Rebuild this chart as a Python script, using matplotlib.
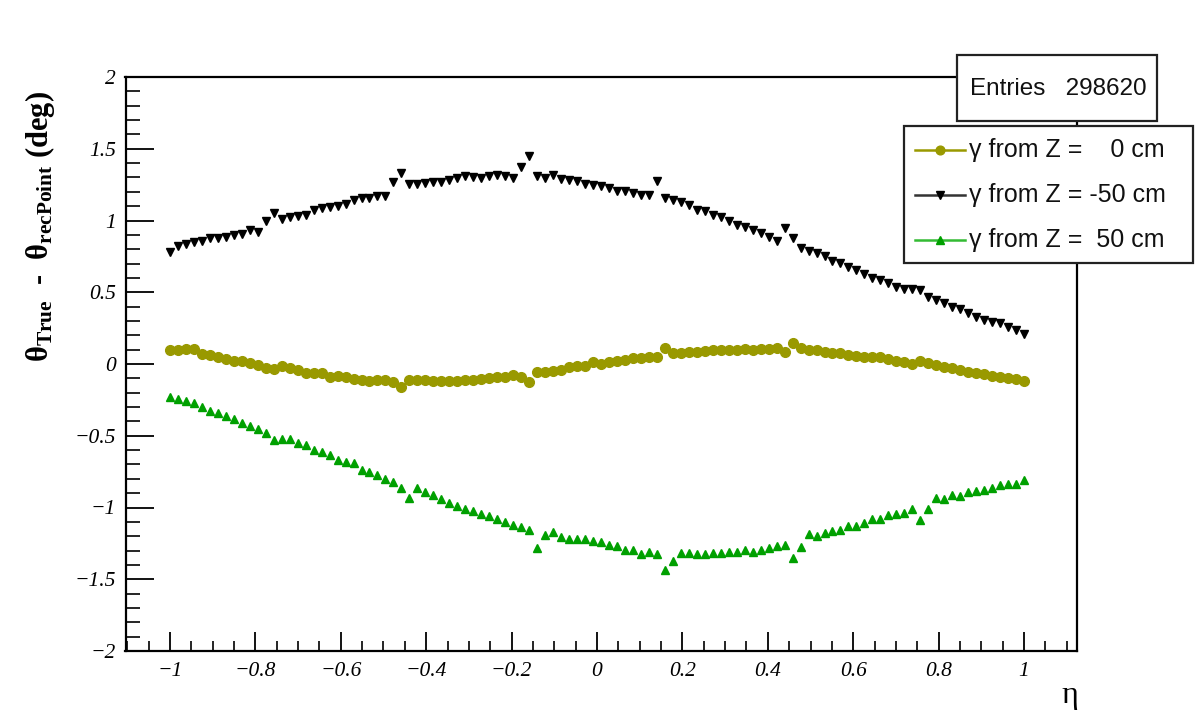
import numpy as np
import matplotlib
matplotlib.use('Agg')
import matplotlib.pyplot as plt
from matplotlib.ticker import MultipleLocator, FuncFormatter
from matplotlib.patches import Rectangle
from matplotlib.lines import Line2D

# ---------------- data ----------------
eta = np.linspace(-1.0, 1.0, 108)

theta_z0 = [
    0.098, 0.098, 0.102, 0.102, 0.070, 0.063, 0.047, 0.033, 0.023, 0.023,
    0.009, -0.007, -0.030, -0.037, -0.014, -0.030, -0.042, -0.061, -0.061, -0.065,
    -0.089, -0.084, -0.093, -0.107, -0.112, -0.117, -0.112, -0.112, -0.123, -0.158,
    -0.112, -0.112, -0.114, -0.115,
    -0.117, -0.117, -0.117, -0.112, -0.112, -0.107, -0.100, -0.093, -0.089, -0.077,
    -0.089, -0.123, -0.054, -0.054, -0.047, -0.042, -0.023, -0.014, -0.014, 0.016,
    0.000, 0.016, 0.023, 0.028, 0.040, 0.040, 0.047, 0.047, 0.110, 0.079,
    0.079, 0.086, 0.086, 0.093, 0.098, 0.098, 0.098, 0.098,
    0.102, 0.098, 0.102, 0.102, 0.110, 0.086, 0.149, 0.110, 0.098, 0.098,
    0.086, 0.079, 0.074, 0.063, 0.056, 0.051, 0.051, 0.047, 0.033, 0.023,
    0.016, 0.000, 0.023, 0.005, -0.007, -0.023, -0.030, -0.042, -0.054, -0.065,
    -0.070, -0.084, -0.093, -0.100, -0.107, -0.117,
]

theta_zm50 = [
    0.780, 0.820, 0.835, 0.847, 0.854, 0.877, 0.880, 0.888, 0.898, 0.905,
    0.935, 0.923, 1.000, 1.050, 1.010, 1.021, 1.028, 1.040, 1.075, 1.086,
    1.091, 1.103, 1.117, 1.144, 1.154, 1.160, 1.172, 1.172, 1.265, 1.330,
    1.254, 1.256, 1.262, 1.268,
    1.270, 1.284, 1.296, 1.307, 1.300, 1.296, 1.312, 1.319, 1.307, 1.296,
    1.373, 1.451, 1.307, 1.296, 1.319, 1.289, 1.284, 1.272, 1.256, 1.249,
    1.237, 1.226, 1.209, 1.203, 1.191, 1.175, 1.179, 1.272, 1.156, 1.140,
    1.126, 1.110, 1.075, 1.063, 1.040, 1.024, 1.000, 0.970,
    0.958, 0.935, 0.912, 0.888, 0.854, 0.947, 0.877, 0.807, 0.784, 0.772,
    0.754, 0.721, 0.702, 0.674, 0.656, 0.628, 0.598, 0.586, 0.567, 0.539,
    0.521, 0.521, 0.516, 0.470, 0.447, 0.424, 0.400, 0.382, 0.354, 0.330,
    0.307, 0.295, 0.284, 0.260, 0.237, 0.209,
]

theta_zp50 = [
    -0.228, -0.246, -0.256, -0.270, -0.302, -0.326, -0.340, -0.363, -0.386, -0.410,
    -0.433, -0.456, -0.479, -0.530, -0.526, -0.526, -0.549, -0.565, -0.600, -0.612,
    -0.635, -0.670, -0.682, -0.693, -0.740, -0.752, -0.775, -0.798, -0.821, -0.867,
    -0.937, -0.867, -0.891, -0.910, -0.940,
    -0.968, -0.991, -1.007, -1.024, -1.047, -1.061, -1.077, -1.100, -1.124, -1.135,
    -1.154, -1.279, -1.193, -1.170, -1.205, -1.217, -1.219, -1.219, -1.233, -1.240,
    -1.263, -1.270, -1.298, -1.298, -1.321, -1.310, -1.321, -1.433, -1.373, -1.317,
    -1.317, -1.326, -1.321, -1.317, -1.317, -1.312, -1.310,
    -1.293, -1.310, -1.293, -1.279, -1.270, -1.263, -1.349, -1.275, -1.186, -1.200,
    -1.181, -1.163, -1.154, -1.131, -1.131, -1.107, -1.077, -1.077, -1.054, -1.047,
    -1.037, -1.007, -1.084, -1.007, -0.937, -0.944, -0.914, -0.921, -0.891, -0.884,
    -0.879, -0.867, -0.844, -0.833, -0.833, -0.809,
]

series_labels = ["\u03b3 from Z =    0 cm", "\u03b3 from Z = -50 cm", "\u03b3 from Z =  50 cm"]
entries_text = "Entries   298620"
x_label = "\u03b7"
y_label = "\u03b8$_{\\mathbf{True}}$  -  \u03b8$_{\\mathbf{recPoint}}$ (deg)"

# ---------------- style ----------------
plt.rcParams['font.family'] = ['Liberation Serif', 'DejaVu Serif']
plt.rcParams['mathtext.fontset'] = 'custom'
plt.rcParams['mathtext.rm'] = 'Liberation Serif'
plt.rcParams['mathtext.bf'] = 'Liberation Serif:bold'
plt.rcParams['mathtext.it'] = 'Liberation Serif:italic'

W, H = 1199, 721
def fx(px):
    return px / W
def fy(py):
    return 1 - py / H

fig = plt.figure(figsize=(W / 100, H / 100), dpi=100)
fig.patch.set_facecolor('white')
ax = fig.add_axes([fx(125.5), fy(651), fx(1076.6) - fx(125.5), fy(77) - fy(651)])
ax.set_xlim(-1.104, 1.123)
ax.set_ylim(-2, 2)

c_olive = '#999900'
c_black = '#000000'
c_green = '#00a000'

l0, = ax.plot(eta, theta_z0, 'o', color=c_olive, ms=7, mec=c_olive, lw=0)
l1, = ax.plot(eta, theta_zm50, 'v', color=c_black, ms=6.4, mec=c_black, lw=0)
l2, = ax.plot(eta, theta_zp50, '^', color=c_green, ms=6.4, mec=c_green, lw=0)

for s in ax.spines.values():
    s.set_linewidth(1.6)

ax.xaxis.set_major_locator(MultipleLocator(0.2))
ax.xaxis.set_minor_locator(MultipleLocator(0.05))
ax.yaxis.set_major_locator(MultipleLocator(0.5))
ax.yaxis.set_minor_locator(MultipleLocator(0.1))

def fmt(v, pos):
    if abs(v) < 1e-9:
        v = 0.0
    s = '%g' % round(v, 3)
    return s.replace('-', '\u2212')

ax.xaxis.set_major_formatter(FuncFormatter(fmt))
ax.yaxis.set_major_formatter(FuncFormatter(fmt))
ax.tick_params(axis='x', which='major', direction='in', length=14, width=1.3, pad=8,
               labelsize=15.5, top=False)
ax.tick_params(axis='x', which='minor', direction='in', length=7, width=1.2, top=False)
ax.tick_params(axis='y', which='major', direction='in', length=20, width=1.3, pad=7,
               labelsize=15.5, right=False)
ax.tick_params(axis='y', which='minor', direction='in', length=10, width=1.2, right=False)
for lab in ax.get_xticklabels() + ax.get_yticklabels():
    lab.set_fontstyle('italic')

fig.text(fx(1070), fy(696), x_label, fontsize=23, ha='center', va='center',
         family=['Liberation Serif', 'DejaVu Serif'])
fig.text(fx(40), fy(226), y_label, fontsize=22, rotation=90, ha='center', va='center',
         fontweight='bold', family=['Liberation Serif', 'DejaVu Serif'])

# ---------------- stats box ----------------
sans = ['Liberation Sans', 'DejaVu Sans']
fig.patches.append(Rectangle((fx(957), fy(121)), fx(1157) - fx(957), fy(55) - fy(121),
                             transform=fig.transFigure, facecolor='white',
                             edgecolor='#222222', lw=1.6, zorder=5))
fig.text(fx(1058), fy(89), entries_text, fontsize=17.5, ha='center', va='center',
         family=sans, color='#111111', zorder=6)

# ---------------- legend box ----------------
fig.patches.append(Rectangle((fx(904), fy(263)), fx(1193) - fx(904), fy(126) - fy(263),
                             transform=fig.transFigure, facecolor='white',
                             edgecolor='#222222', lw=1.6, zorder=5))
rows = [150, 195, 240]
line_cols = [c_olive, '#333333', '#33bb33']
for line, ypix, lc, lab in zip([l0, l1, l2], rows, line_cols, series_labels):
    fig.add_artist(Line2D([fx(915), fx(965)], [fy(ypix), fy(ypix)], transform=fig.transFigure,
                          color=lc, lw=1.8, zorder=6))
    fig.add_artist(Line2D([fx(940)], [fy(ypix)], transform=fig.transFigure,
                          marker=line.get_marker(), ms=line.get_markersize() * 0.9,
                          color=line.get_color(), mec=line.get_color(), lw=0, zorder=7))
    fig.text(fx(969), fy(ypix), lab, fontsize=18, ha='left', va='center',
             family=sans, color='#111111', zorder=6)

fig.savefig('out.png', dpi=100, facecolor='white')
